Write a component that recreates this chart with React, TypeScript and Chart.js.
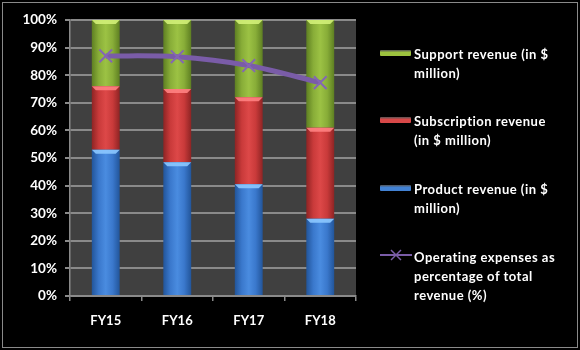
import React, { useEffect, useRef } from "react";
import { Chart, registerables } from "chart.js";

Chart.register(...registerables);

const categories = ["FY15", "FY16", "FY17", "FY18"];
const productRevenue = [53, 48.5, 40.5, 28];
const subscriptionRevenue = [23, 26.5, 31.5, 33];
const supportRevenue = [24, 25, 28, 39];
const opexPct = [87, 86.7, 83.5, 77.3];
const yTicks = [0, 10, 20, 30, 40, 50, 60, 70, 80, 90, 100];

const legendItems = [
  { label: ["Support revenue (in $", "million)"], kind: "bar", color: "#9cc23e", top: 45 },
  { label: ["Subscription revenue", "(in $ million)"], kind: "bar", color: "#d84848", top: 112 },
  { label: ["Product revenue (in $", "million)"], kind: "bar", color: "#4282d4", top: 180 },
  { label: ["Operating expenses as", "percentage of total", "revenue (%)"], kind: "line", color: "#7a5ca8", top: 248 },
];

const FONT = "Lato, 'Liberation Sans', sans-serif";
const BAR_PCT = 0.39;

function barGradient(dark: string, mid: string, light: string) {
  return (context: any) => {
    const chart = context.chart;
    const xs = chart.scales && chart.scales.x;
    if (!xs || context.dataIndex === undefined) return mid;
    const cx = xs.getPixelForTick(context.dataIndex);
    const w = ((xs.right - xs.left) / categories.length) * BAR_PCT;
    if (!isFinite(cx) || !isFinite(w) || w <= 0) return mid;
    const g = chart.ctx.createLinearGradient(cx - w / 2, 0, cx + w / 2, 0);
    g.addColorStop(0, dark);
    g.addColorStop(0.25, mid);
    g.addColorStop(0.5, light);
    g.addColorStop(0.75, mid);
    g.addColorStop(1, dark);
    return g;
  };
}

const bgPlugin = {
  id: "bgPlugin",
  beforeDraw(chart: any) {
    const { ctx, chartArea } = chart;
    ctx.save();
    ctx.fillStyle = "#000000";
    ctx.fillRect(0, 0, chart.width, chart.height);
    ctx.strokeStyle = "#8a8a8a";
    ctx.lineWidth = 1;
    ctx.strokeRect(2.5, 2.5, chart.width - 5, chart.height - 5);
    ctx.fillStyle = "#404040";
    ctx.fillRect(chartArea.left, chartArea.top, chartArea.right - chartArea.left, chartArea.bottom - chartArea.top);
    ctx.restore();
  },
  afterDatasetDraw(chart: any, args: any) {
    const meta = args.meta;
    if (meta.type !== "bar") return;
    const caps = ["", "rgba(140,200,255,0.9)", "rgba(255,130,130,0.9)", "rgba(210,240,120,0.9)"];
    const ctx = chart.ctx;
    ctx.save();
    meta.data.forEach((el: any) => {
      const w = el.width;
      const x0 = el.x - w / 2;
      const top = Math.min(el.y, el.base);
      if (!isFinite(w) || !isFinite(top)) return;
      ctx.fillStyle = caps[args.index] || "rgba(255,255,255,0.5)";
      ctx.beginPath();
      ctx.moveTo(x0, top);
      ctx.lineTo(x0 + w, top);
      ctx.lineTo(x0 + w - 4, top + 4);
      ctx.lineTo(x0 + 4, top + 4);
      ctx.closePath();
      ctx.fill();
    });
    ctx.restore();
  },
};

export default function App() {
  const canvasRef = useRef<HTMLCanvasElement | null>(null);

  useEffect(() => {
    document.body.style.margin = "0";
    const canvas = canvasRef.current;
    if (!canvas) return;
    const chart = new Chart(canvas, {
      type: "bar",
      data: {
        labels: categories,
        datasets: [
          {
            type: "line",
            label: "Operating expenses as percentage of total revenue (%)",
            data: opexPct,
            borderColor: "#7a5ca8",
            borderWidth: 5,
            pointStyle: "crossRot",
            pointRadius: 9,
            pointBorderWidth: 2,
            pointBorderColor: "#8466b4",
            pointBackgroundColor: "#8466b4",
            tension: 0.3,
            order: 0,
          } as any,
          {
            label: "Product revenue (in $ million)",
            data: productRevenue,
            backgroundColor: barGradient("#22559a", "#3a78cc", "#4a8ce0"),
            borderWidth: 0,
            barPercentage: BAR_PCT,
            categoryPercentage: 1,
            order: 1,
          },
          {
            label: "Subscription revenue (in $ million)",
            data: subscriptionRevenue,
            backgroundColor: barGradient("#8e2424", "#c93a3a", "#dd4848"),
            borderWidth: 0,
            barPercentage: BAR_PCT,
            categoryPercentage: 1,
            order: 1,
          },
          {
            label: "Support revenue (in $ million)",
            data: supportRevenue,
            backgroundColor: barGradient("#5e7f22", "#88ad38", "#9cc244"),
            borderWidth: 0,
            barPercentage: BAR_PCT,
            categoryPercentage: 1,
            order: 1,
          },
        ],
      },
      options: {
        animation: false,
        responsive: false,
        maintainAspectRatio: false,
        layout: { padding: { left: 0, right: 224, top: 20, bottom: 14 } },
        plugins: {
          legend: { display: false },
          tooltip: { enabled: false },
        },
        scales: {
          x: {
            stacked: true,
            offset: true,
            grid: {
              display: true,
              drawOnChartArea: false,
              drawTicks: true,
              tickLength: 5,
              color: "#8a8a8a",
              lineWidth: 1.5,
              offset: true,
            },
            border: { display: true, color: "#8a8a8a", width: 1.5 },
            ticks: {
              color: "#ffffff",
              font: { family: FONT, size: 13, weight: "bold" },
              padding: 12,
            },
            afterFit(scale: any) {
              scale.height = 40;
            },
          },
          y: {
            stacked: true,
            min: 0,
            max: 100,
            afterBuildTicks(scale: any) {
              scale.ticks = yTicks.map((v) => ({ value: v }));
            },
            grid: {
              color: "#8a8a8a",
              lineWidth: 2,
              tickLength: 5,
            },
            border: { display: true, color: "#8a8a8a", width: 1.5 },
            ticks: {
              color: "#ffffff",
              font: { family: FONT, size: 13.5, weight: "bold" },
              padding: 8,
              callback: (v: any) => v + "%",
            },
            afterFit(scale: any) {
              scale.width = 70;
            },
          },
        },
      },
      plugins: [bgPlugin],
    });
    return () => chart.destroy();
  }, []);

  return (
    <div style={{ position: "fixed", left: 0, top: 0, width: 580, height: 350, background: "#000" }}>
      <canvas ref={canvasRef} width={580} height={350} style={{ display: "block", width: 580, height: 350 }} />
      {legendItems.map((it, i) => (
        <div key={i} style={{ position: "absolute", left: 380, top: it.top }}>
          {it.kind === "bar" ? (
            <div
              style={{
                position: "absolute",
                left: 0,
                top: 5,
                width: 31,
                height: 6,
                background: `linear-gradient(to bottom, #ffffff55, ${it.color} 40%, ${it.color})`,
                borderRadius: 1,
              }}
            />
          ) : (
            <svg style={{ position: "absolute", left: 0, top: 1 }} width={32} height={12}>
              <line x1={0} y1={6} x2={32} y2={6} stroke={it.color} strokeWidth={2} />
              <line x1={11} y1={1} x2={21} y2={11} stroke={it.color} strokeWidth={1.5} />
              <line x1={21} y1={1} x2={11} y2={11} stroke={it.color} strokeWidth={1.5} />
            </svg>
          )}
          <div
            style={{
              position: "absolute",
              left: 34,
              top: 0,
              width: 180,
              color: "#fff",
              fontFamily: FONT,
              fontWeight: "bold",
              fontSize: 13,
              letterSpacing: "0.5px",
              lineHeight: "19px",
              whiteSpace: "nowrap",
            }}
          >
            {it.label.map((l, j) => (
              <div key={j}>{l}</div>
            ))}
          </div>
        </div>
      ))}
    </div>
  );
}
